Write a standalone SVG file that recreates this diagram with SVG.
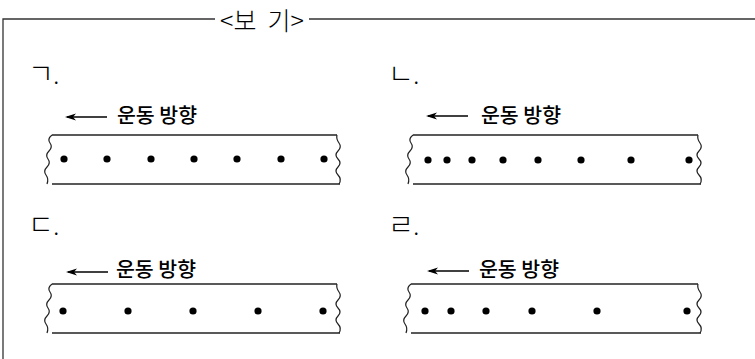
<svg xmlns="http://www.w3.org/2000/svg" width="755" height="359" viewBox="0 0 755 359">
<style>
.frame{stroke:#333;stroke-width:1.3;fill:none}
.tape{stroke:#222;stroke-width:1.3;fill:none}
.dot{fill:#000}
.lbl{font-family:"Noto Sans CJK KR","Noto Sans",sans-serif;font-size:28px;font-weight:300;fill:#000}
.pd{font-size:18px;font-weight:400}
.dir{font-family:"Noto Sans CJK KR","Noto Sans",sans-serif;font-size:20.5px;font-weight:500;fill:#000}
.title{font-family:"Noto Sans CJK KR","Noto Sans",sans-serif;font-size:25px;font-weight:300;fill:#000}
.arr{stroke:#000;stroke-width:1.3;fill:none}
</style>
<defs>
<marker id="ah" markerWidth="11" markerHeight="8" refX="9" refY="4" orient="auto" markerUnits="userSpaceOnUse">
<path d="M11,4 L0,0.5 L3,4 L0,7.5 Z" fill="#000"/>
</marker>
<path id="waveL" d="M0,0 q-5,4 -2,8 q3,4 -1,8 q-4,4 -1,8 q3,4 -1,8 q-4,4 -1,8 q3,4 1,9" fill="none" stroke="#222" stroke-width="1.2"/>
<path id="waveR" d="M0,0 q-1,4 2,8 q3,4 -1,8 q-4,4 0,8 q4,4 0,8 q-4,4 0,8 q4,4 1,9" fill="none" stroke="#222" stroke-width="1.2"/>
</defs>

<g id="frame">
<path class="frame" d="M3,359 V19 H215 M309,19 H755"/>
<text class="title" x="262" y="30" text-anchor="middle" xml:space="preserve">&lt;보  기&gt;</text>
</g>

<g id="panel-a">
<text class="lbl" x="28" y="84">ㄱ<tspan class="pd">.</tspan></text>
<text class="dir" x="117" y="123">운동 방향</text>
<line class="tape" x1="52" y1="135" x2="337" y2="135"/>
<line class="tape" x1="52" y1="184" x2="340" y2="184"/>
<use href="#waveL" x="52" y="135"/>
<use href="#waveR" x="337" y="135"/>
<circle class="dot" cx="64" cy="159" r="3.6"/>
<circle class="dot" cx="107" cy="159" r="3.6"/>
<circle class="dot" cx="151" cy="159" r="3.6"/>
<circle class="dot" cx="194" cy="159" r="3.6"/>
<circle class="dot" cx="237" cy="159" r="3.6"/>
<circle class="dot" cx="281" cy="159" r="3.6"/>
<circle class="dot" cx="324" cy="159" r="3.6"/>
</g>

<g id="panel-b">
<text class="lbl" x="388" y="84">ㄴ<tspan class="pd">.</tspan></text>
<text class="dir" x="481" y="123">운동 방향</text>
<line class="tape" x1="413" y1="135" x2="698" y2="135"/>
<line class="tape" x1="413" y1="184" x2="701" y2="184"/>
<use href="#waveL" x="413" y="135"/>
<use href="#waveR" x="698" y="135"/>
<circle class="dot" cx="428" cy="160" r="3.6"/>
<circle class="dot" cx="447" cy="160" r="3.6"/>
<circle class="dot" cx="472" cy="160" r="3.6"/>
<circle class="dot" cx="503" cy="160" r="3.6"/>
<circle class="dot" cx="538" cy="160" r="3.6"/>
<circle class="dot" cx="581" cy="160" r="3.6"/>
<circle class="dot" cx="631" cy="160" r="3.6"/>
<circle class="dot" cx="689" cy="160" r="3.6"/>
</g>

<g id="panel-c">
<text class="lbl" x="28" y="235">ㄷ<tspan class="pd">.</tspan></text>
<text class="dir" x="116" y="277">운동 방향</text>
<line class="tape" x1="52" y1="284" x2="337" y2="284"/>
<line class="tape" x1="52" y1="333" x2="340" y2="333"/>
<use href="#waveL" x="52" y="284"/>
<use href="#waveR" x="337" y="284"/>
<circle class="dot" cx="63" cy="311" r="3.6"/>
<circle class="dot" cx="128" cy="311" r="3.6"/>
<circle class="dot" cx="193" cy="311" r="3.6"/>
<circle class="dot" cx="258" cy="311" r="3.6"/>
<circle class="dot" cx="323" cy="311" r="3.6"/>
</g>

<g id="panel-d">
<text class="lbl" x="388" y="235">ㄹ<tspan class="pd">.</tspan></text>
<text class="dir" x="479" y="277">운동 방향</text>
<line class="tape" x1="411" y1="284" x2="698" y2="284"/>
<line class="tape" x1="411" y1="333" x2="701" y2="333"/>
<use href="#waveL" x="411" y="284"/>
<use href="#waveR" x="698" y="284"/>
<circle class="dot" cx="425" cy="311" r="3.6"/>
<circle class="dot" cx="451" cy="311" r="3.6"/>
<circle class="dot" cx="486" cy="311" r="3.6"/>
<circle class="dot" cx="532" cy="311" r="3.6"/>
<circle class="dot" cx="597" cy="311" r="3.6"/>
<circle class="dot" cx="687" cy="311" r="3.6"/>
</g>

<g id="connectors">
<line class="arr" x1="107" y1="117" x2="67" y2="117" marker-end="url(#ah)"/>
<line class="arr" x1="468" y1="116" x2="428" y2="116" marker-end="url(#ah)"/>
<line class="arr" x1="108" y1="272" x2="68" y2="272" marker-end="url(#ah)"/>
<line class="arr" x1="469" y1="271" x2="429" y2="271" marker-end="url(#ah)"/>
</g>
</svg>
